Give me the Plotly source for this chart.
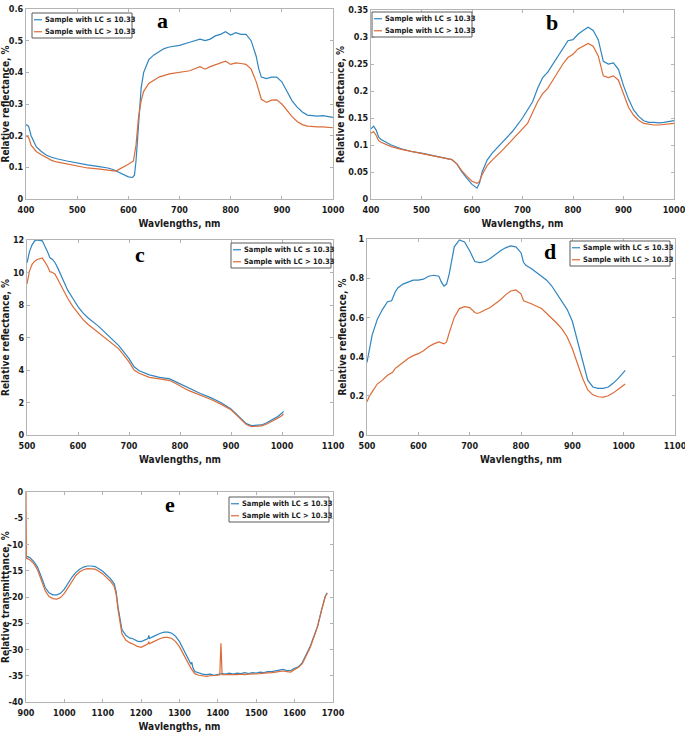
import plotly.graph_objects as go

# ---------------- data ----------------
series_names = ["Sample with LC \u2264 10.33", "Sample with LC > 10.33"]
panel_letters = ["a", "b", "c", "d", "e"]
x_titles = ["Wavlengths, nm"] * 5
y_titles = ["Relative reflectance, %"] * 4 + ["Relative transmittance, %"]

# panel a
a_wl_blue = [400, 405, 410, 420, 430, 440, 450, 460, 480, 500, 520, 540, 560, 570, 580, 590, 600, 608, 612, 615, 620, 625,
             630, 640, 650, 660, 670, 680, 700, 720, 740, 750, 760, 770, 780, 790, 800, 810, 820, 830, 840, 850, 855,
             860, 870, 880, 890, 900, 910, 920, 930, 940, 950, 960, 970, 980, 990, 1000]
a_blue = [0.235, 0.23, 0.20, 0.165, 0.15, 0.138, 0.132, 0.127, 0.12, 0.113, 0.108, 0.103, 0.098, 0.093, 0.085, 0.076,
          0.07, 0.068, 0.075, 0.12, 0.25, 0.35, 0.40, 0.44, 0.455, 0.465, 0.475, 0.48, 0.485, 0.495, 0.505, 0.50,
          0.505, 0.515, 0.52, 0.528, 0.518, 0.525, 0.52, 0.52, 0.50, 0.45, 0.41, 0.385, 0.38, 0.385, 0.385, 0.37,
          0.34, 0.31, 0.29, 0.275, 0.265, 0.263, 0.262, 0.263, 0.26, 0.258]
a_wl_orange = [400, 405, 410, 420, 430, 440, 450, 460, 480, 500, 520, 540, 560, 570, 575, 580, 590, 600, 610, 615, 620,
               625, 630, 640, 650, 660, 680, 700, 720, 740, 750, 760, 780, 790, 800, 810, 820, 830, 840, 850, 860,
               870, 880, 890, 900, 910, 920, 930, 940, 950, 960, 970, 980, 990, 1000]
a_orange = [0.20, 0.195, 0.17, 0.15, 0.14, 0.13, 0.122, 0.117, 0.11, 0.103, 0.098, 0.095, 0.092, 0.09, 0.088, 0.092,
            0.10, 0.11, 0.12, 0.17, 0.26, 0.31, 0.34, 0.365, 0.375, 0.385, 0.395, 0.40, 0.405, 0.418, 0.41, 0.418,
            0.428, 0.435, 0.425, 0.43, 0.428, 0.425, 0.41, 0.37, 0.315, 0.305, 0.312, 0.313, 0.30, 0.28, 0.26,
            0.245, 0.235, 0.23, 0.228, 0.228, 0.228, 0.227, 0.225]

# panel b
b_wl = [400, 405, 410, 415, 420, 440, 460, 480, 500, 520, 540, 560, 570, 580, 590, 600, 610, 615, 620, 630, 640, 660,
        680, 700, 710, 720, 730, 740, 750, 760, 770, 780, 790, 800, 810, 820, 830, 840, 850, 860, 870, 880, 890,
        900, 910, 920, 930, 940, 950, 960, 970, 980, 990, 1000]
b_blue = [0.13, 0.135, 0.128, 0.115, 0.11, 0.10, 0.093, 0.088, 0.085, 0.081, 0.077, 0.073, 0.065, 0.05, 0.038, 0.027,
          0.02, 0.03, 0.05, 0.072, 0.085, 0.105, 0.125, 0.15, 0.165, 0.18, 0.205, 0.225, 0.235, 0.25, 0.265, 0.28,
          0.293, 0.295, 0.305, 0.312, 0.318, 0.312, 0.295, 0.255, 0.25, 0.252, 0.24, 0.21, 0.185, 0.165, 0.153,
          0.145, 0.142, 0.142, 0.141, 0.142, 0.143, 0.145]
b_orange = [0.122, 0.125, 0.118, 0.108, 0.105, 0.097, 0.092, 0.088, 0.085, 0.081, 0.077, 0.073, 0.065, 0.052, 0.042,
            0.033, 0.029, 0.033, 0.045, 0.062, 0.072, 0.09, 0.11, 0.13, 0.14, 0.16, 0.18, 0.195, 0.205, 0.22, 0.235,
            0.25, 0.262, 0.268, 0.278, 0.283, 0.288, 0.283, 0.265, 0.228, 0.225, 0.228, 0.22, 0.195, 0.17, 0.155,
            0.146, 0.14, 0.138, 0.137, 0.137, 0.138, 0.139, 0.14]

# panel c
c_wl = [500, 505, 510, 515, 520, 530, 540, 545, 550, 555, 560, 570, 580, 590, 600, 610, 620, 640, 660, 680, 700, 710,
        720, 740, 760, 780, 790, 800, 810, 820, 840, 860, 880, 900, 910, 920, 930, 940, 950, 960, 970, 980, 990,
        1000, 1003]
c_blue = [10.6, 11.3, 11.7, 11.95, 12.0, 11.95, 11.3, 10.9, 10.8, 10.6, 10.3, 9.6, 8.9, 8.4, 7.9, 7.5, 7.2, 6.7, 6.1,
          5.5, 4.7, 4.2, 3.95, 3.7, 3.55, 3.45, 3.3, 3.15, 2.95, 2.8, 2.55, 2.3, 2.0, 1.6, 1.3, 1.0, 0.7, 0.58,
          0.58, 0.62, 0.75, 0.9, 1.1, 1.35, 1.45]
c_orange = [9.3, 10.1, 10.5, 10.7, 10.8, 10.9, 10.4, 10.05, 10.0, 9.9, 9.6, 9.0, 8.4, 7.9, 7.5, 7.1, 6.8, 6.3, 5.8,
            5.3, 4.5, 4.0, 3.8, 3.55, 3.45, 3.35, 3.2, 3.0, 2.85, 2.7, 2.45, 2.2, 1.9, 1.55, 1.25, 0.95, 0.65, 0.52,
            0.52, 0.56, 0.68, 0.82, 1.0, 1.2, 1.3]

# panel d
d_wl_blue = [500, 505, 510, 520, 530, 540, 548, 555, 560, 570, 580, 590, 600, 610, 620, 630, 640, 645, 650, 655, 660,
             665, 670, 680, 690, 700, 705, 710, 720, 730, 740, 750, 760, 770, 780, 790, 800, 805, 810, 820, 830,
             840, 850, 860, 870, 880, 890, 900, 910, 920, 930, 940, 950, 960, 970, 980, 990, 1003]
d_blue = [0.37, 0.45, 0.51, 0.59, 0.64, 0.68, 0.685, 0.73, 0.75, 0.77, 0.78, 0.79, 0.79, 0.795, 0.81, 0.815, 0.81,
          0.78, 0.76, 0.77, 0.82, 0.90, 0.96, 0.995, 0.985, 0.94, 0.91, 0.885, 0.88, 0.885, 0.90, 0.92, 0.94,
          0.955, 0.965, 0.96, 0.93, 0.88, 0.865, 0.85, 0.83, 0.81, 0.79, 0.76, 0.72, 0.68, 0.64, 0.58, 0.48,
          0.37, 0.28, 0.245, 0.238, 0.238, 0.245, 0.265, 0.29, 0.33]
d_wl_orange = [500, 505, 510, 520, 530, 540, 550, 555, 560, 570, 580, 590, 600, 610, 620, 630, 640, 650, 655, 660,
               670, 680, 690, 700, 710, 715, 720, 740, 760, 770, 780, 790, 800, 805, 810, 820, 840, 850, 860, 870,
               880, 890, 900, 910, 920, 930, 940, 950, 960, 970, 980, 990, 1003]
d_orange = [0.17, 0.20, 0.22, 0.26, 0.28, 0.305, 0.32, 0.34, 0.35, 0.37, 0.39, 0.405, 0.415, 0.43, 0.45, 0.465,
            0.475, 0.465, 0.475, 0.52, 0.60, 0.645, 0.655, 0.65, 0.625, 0.62, 0.625, 0.65, 0.69, 0.715, 0.735, 0.74,
            0.72, 0.685, 0.68, 0.67, 0.645, 0.62, 0.60, 0.57, 0.54, 0.50, 0.44, 0.36, 0.29, 0.23, 0.205, 0.195,
            0.193, 0.20, 0.215, 0.235, 0.26]

# panel e
e_wl_blue = [900, 910, 920, 930, 940, 950, 960, 970, 980, 990, 1000, 1010, 1020, 1030, 1040, 1050, 1060, 1070, 1080,
             1090, 1100, 1110, 1120, 1130, 1135, 1140, 1145, 1150, 1160, 1170, 1180, 1190, 1200, 1210, 1218, 1220,
             1222, 1230, 1240, 1250, 1260, 1270, 1280, 1290, 1300, 1310, 1320, 1330, 1332, 1335, 1340, 1350, 1360,
             1370, 1380, 1390, 1400, 1410, 1420, 1430, 1440, 1450, 1460, 1470, 1480, 1490, 1500, 1510, 1520, 1530,
             1540, 1550, 1560, 1570, 1580, 1590, 1600, 1610, 1620, 1630, 1640, 1650, 1660, 1670, 1680, 1685]
e_blue = [-12.2, -12.5, -13.2, -14.3, -16.2, -18.2, -19.2, -19.6, -19.6, -19.3, -18.5, -17.3, -16.2, -15.3, -14.7,
          -14.3, -14.1, -14.1, -14.2, -14.6, -15.1, -15.8, -16.5, -17.5, -19.0, -22.0, -24.5, -26.2, -27.3, -27.8,
          -28.0, -28.4, -28.5, -28.2, -27.9, -27.3, -27.9, -27.6, -27.2, -26.9, -26.7, -26.7, -26.9, -27.5, -28.5,
          -30.0, -31.5, -32.8, -32.4, -33.5, -34.2, -34.5, -34.7, -34.8, -34.7, -34.9, -34.8, -34.6, -34.7, -34.5,
          -34.7, -34.5, -34.6, -34.4, -34.6, -34.4, -34.5, -34.3, -34.4, -34.2, -34.2, -34.1, -34.0, -33.8, -34.0,
          -34.0, -33.6, -33.3, -32.5, -31.0, -29.5, -27.5, -25.5, -22.5, -19.8, -19.2]
e_wl_orange = [900, 901, 910, 920, 930, 940, 950, 960, 970, 980, 990, 1000, 1010, 1020, 1030, 1040, 1050, 1060, 1070,
               1080, 1090, 1100, 1110, 1120, 1130, 1135, 1140, 1145, 1150, 1160, 1170, 1180, 1190, 1200, 1210, 1218,
               1220, 1222, 1230, 1240, 1250, 1260, 1270, 1280, 1290, 1300, 1310, 1320, 1330, 1340, 1350, 1360, 1370,
               1380, 1390, 1400, 1405, 1408, 1411, 1420, 1430, 1440, 1450, 1460, 1470, 1480, 1490, 1500, 1510, 1520,
               1530, 1540, 1550, 1560, 1570, 1580, 1590, 1600, 1610, 1620, 1630, 1640, 1650, 1660, 1670, 1680, 1685]
e_orange = [0.0, -12.6, -12.9, -13.6, -14.8, -16.7, -18.8, -19.9, -20.3, -20.4, -20.1, -19.3, -18.1, -16.9, -15.9,
            -15.2, -14.8, -14.6, -14.6, -14.7, -15.1, -15.6, -16.3, -17.0, -18.0, -19.5, -22.5, -25.2, -27.0, -28.2,
            -28.7, -29.0, -29.4, -29.6, -29.2, -28.9, -28.5, -28.9, -28.6, -28.2, -27.9, -27.7, -27.7, -27.9, -28.5,
            -29.5, -30.8, -32.2, -33.6, -34.6, -34.9, -35.0, -35.1, -35.0, -35.0, -34.9, -34.8, -28.8, -34.8, -34.8,
            -34.9, -34.8, -34.8, -34.7, -34.8, -34.7, -34.7, -34.6, -34.6, -34.5, -34.5, -34.4, -34.3, -34.2, -34.1,
            -34.2, -34.3, -33.8, -33.4, -32.7, -31.2, -29.7, -27.7, -25.6, -22.6, -19.9, -19.3]

# axes: ranges and tick labels
x_ranges = [[400, 1000], [400, 1000], [500, 1100], [500, 1100], [900, 1700]]
y_ranges = [[0, 0.6], [0, 0.35], [0, 12], [0, 1], [-40, 0]]
x_tickvals = [[400, 500, 600, 700, 800, 900, 1000]] * 2 + [[500, 600, 700, 800, 900, 1000, 1100]] * 2 + \
             [[900, 1000, 1100, 1200, 1300, 1400, 1500, 1600, 1700]]
y_tickvals = [[0, 0.1, 0.2, 0.3, 0.4, 0.5, 0.6],
              [0, 0.05, 0.1, 0.15, 0.2, 0.25, 0.3, 0.35],
              [0, 2, 4, 6, 8, 10, 12],
              [0, 0.2, 0.4, 0.6, 0.8, 1],
              [-40, -35, -30, -25, -20, -15, -10, -5, 0]]
y_ticktext = [["0", "0.1", "0.2", "0.3", "0.4", "0.5", "0.6"],
              ["0", "0.05", "0.1", "0.15", "0.2", "0.25", "0.3", "0.35"],
              ["0", "2", "4", "6", "8", "10", "12"],
              ["0", "0.2", "0.4", "0.6", "0.8", "1"],
              ["-40", "-35", "-30", "-25", "-20", "-15", "-10", "-5", "0"]]

panels = [
    (a_wl_blue, a_blue, a_wl_orange, a_orange),
    (b_wl, b_blue, b_wl, b_orange),
    (c_wl, c_blue, c_wl, c_orange),
    (d_wl_blue, d_blue, d_wl_orange, d_orange),
    (e_wl_blue, e_blue, e_wl_orange, e_orange),
]

# ---------------- styling / layout ----------------
W, H = 685, 738
COLORS = ["#2f85bf", "#db6c38"]
FONT = "DejaVu Sans Condensed, Liberation Sans Narrow, Arial Narrow, Liberation Sans, sans-serif"
SERIF = "Liberation Serif, Times New Roman, serif"
AX = "#b4b4b4"
TXT = "#1a1a1a"


def fx(p):
    return p / W


def fy(p):
    return 1 - p / H


# plot boxes in page pixels (left, top, right, bottom)
boxes = [(26, 9, 333, 199), (371, 10, 674, 199), (27, 240, 333, 435), (367, 239, 675, 435), (26, 492, 333, 702)]
y_title_standoff = [1, 1, 1, 1, 7]
# legend boxes in page pixels (left, top, right, bottom)
legend_boxes = [(32, 13, 132, 38), (372, 12, 472, 37), (231, 243, 331, 268), (570, 241, 670, 266),
                (229, 497, 329, 522)]
letter_pos = [(162, 20), (552, 22), (140, 254), (550, 251), (170, 504)]

fig = go.Figure()
layout = dict(width=W, height=H, margin=dict(l=0, r=0, t=0, b=0), paper_bgcolor="white",
              plot_bgcolor="white", showlegend=False, annotations=[], shapes=[])

for i, (xb, yb, xo, yo) in enumerate(panels):
    n = "" if i == 0 else str(i + 1)
    for k, (xs, ys) in enumerate([(xb, yb), (xo, yo)]):
        fig.add_trace(go.Scatter(x=xs, y=ys, mode="lines", name=series_names[k],
                                 line=dict(color=COLORS[k], width=1.2), xaxis="x" + n, yaxis="y" + n))
    l, t, r, b = boxes[i]
    common = dict(showline=True, linecolor=AX, linewidth=1, mirror="ticks", ticks="inside", ticklen=3,
                  tickcolor=AX, showgrid=False, zeroline=False, automargin=False, ticklabeloverflow="allow",
                  tickfont=dict(family=FONT, size=9, color=TXT, weight="bold"))
    layout["xaxis" + n] = dict(common, domain=[fx(l), fx(r)], range=x_ranges[i], anchor="y" + n,
                               tickvals=x_tickvals[i], ticktext=[str(v) for v in x_tickvals[i]],
                               ticklabelstandoff=2,
                               title=dict(text=x_titles[i], standoff=6,
                                          font=dict(family=FONT, size=10, color=TXT, weight="bold")))
    layout["yaxis" + n] = dict(common, domain=[fy(b), fy(t)], range=y_ranges[i], anchor="x" + n,
                               tickvals=y_tickvals[i], ticktext=y_ticktext[i],
                               title=dict(text=y_titles[i], standoff=y_title_standoff[i],
                                          font=dict(family=FONT, size=10, color=TXT, weight="bold")))

    # legend box drawn in page coordinates
    L, T, R, B = legend_boxes[i]
    layout["shapes"].append(dict(type="rect", xref="paper", yref="paper", x0=fx(L), x1=fx(R), y0=fy(B), y1=fy(T),
                                 line=dict(color="#5a5a5a", width=1), fillcolor="white", layer="above"))
    rows = [T + (B - T) * 0.27, T + (B - T) * 0.75]
    for k in range(2):
        layout["shapes"].append(dict(type="line", xref="paper", yref="paper", x0=fx(L + 2), x1=fx(L + 10),
                                     y0=fy(rows[k]), y1=fy(rows[k]), line=dict(color=COLORS[k], width=1.2),
                                     layer="above"))
        layout["annotations"].append(dict(text=series_names[k], x=fx(L + 11), y=fy(rows[k]), xref="paper",
                                          yref="paper", showarrow=False, xanchor="left", yanchor="middle",
                                          font=dict(family=FONT, size=7.5, color=TXT, weight="bold")))
    px, py = letter_pos[i]
    layout["annotations"].append(dict(text=panel_letters[i], x=fx(px), y=fy(py), xref="paper", yref="paper",
                                      showarrow=False, xanchor="center", yanchor="middle",
                                      font=dict(family=SERIF, size=22, color="black", weight="bold")))

fig.update_layout(**layout)
# remove the default page margin so the figure fills the window exactly; no mode bar
fig.write_html("out.html", config={"displayModeBar": False},
               post_script="document.body.style.margin='0';")
